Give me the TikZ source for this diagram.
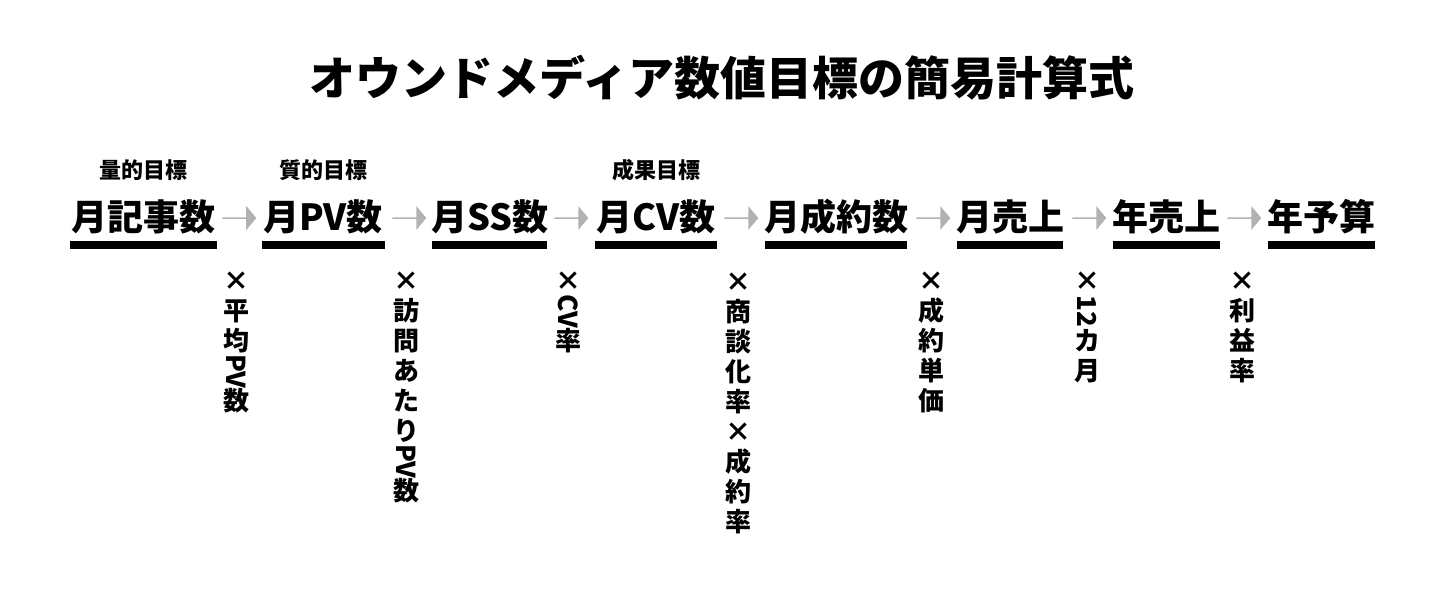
\documentclass[tikz,border=0pt]{standalone}
\usepackage{fontspec}
\setmainfont{Noto Sans CJK JP}
\usetikzlibrary{shapes.arrows}
\newcommand{\rl}[1]{\rotatebox[origin=c]{-90}{#1}}
\tikzset{
  main/.style={font=\fontsize{18pt}{20pt}\selectfont\bfseries, anchor=base, inner sep=0pt},
  sub/.style={font=\fontsize{11pt}{13pt}\selectfont\bfseries, inner sep=0pt},
  bar/.style={line width=4pt},
  arr/.style={single arrow, fill=black!30, draw=none, minimum height=17pt, minimum width=12pt, single arrow head extend=3pt, inner sep=0pt, single arrow tip angle=100},
  vert/.style={font=\fontsize{13pt}{15pt}\selectfont\bfseries, anchor=north, align=center, inner sep=0pt},
}
\begin{document}
\begin{tikzpicture}[x=0.5pt,y=-0.5pt]
\useasboundingbox (0,0) rectangle (1440,590);
\node[font=\fontsize{23pt}{26pt}\selectfont\bfseries] (title) at (722,78) {オウンドメディア数値目標の簡易計算式};
% main labels
\node[main] (n1) at (143,230) {月記事数};
\node[main] (n2) at (323,230) {月PV数};
\node[main] (n3) at (490,230) {月SS数};
\node[main] (n4) at (656,230) {月CV数};
\node[main] (n5) at (836,230) {月成約数};
\node[main] (n6) at (1010,230) {月売上};
\node[main] (n7) at (1166,230) {年売上};
\node[main] (n8) at (1321,230) {年予算};
% bars
\coordinate (b1a) at (70,245); \coordinate (b1b) at (217,245);
\coordinate (b2a) at (262,245); \coordinate (b2b) at (385,245);
\coordinate (b3a) at (432,245); \coordinate (b3b) at (547,245);
\coordinate (b4a) at (595,245); \coordinate (b4b) at (717,245);
\coordinate (b5a) at (765,245); \coordinate (b5b) at (907,245);
\coordinate (b6a) at (957,245); \coordinate (b6b) at (1063,245);
\coordinate (b7a) at (1113,245); \coordinate (b7b) at (1220,245);
\coordinate (b8a) at (1268,245); \coordinate (b8b) at (1375,245);
\foreach \i in {1,...,8} \draw[bar] (b\i a) -- (b\i b);
% sub labels
\node[sub] (s1) at (143,170) {量的目標};
\node[sub] (s2) at (323,170) {質的目標};
\node[sub] (s4) at (656,170) {成果目標};
% arrows
\node[arr] (a1) at (239,218) {};
\node[arr] (a2) at (409,218) {};
\node[arr] (a3) at (571,218) {};
\node[arr] (a4) at (741,218) {};
\node[arr] (a5) at (933,218) {};
\node[arr] (a6) at (1089,218) {};
\node[arr] (a7) at (1244,218) {};
% vertical texts
\node[vert] (v1) at (236,272) {×\\平\\均\\\rl{PV}\\数};
\node[vert] (v2) at (406,272) {×\\訪\\問\\あ\\た\\り\\\rl{PV}\\数};
\node[vert] (v3) at (568,272) {×\\\rl{CV}\\率};
\node[vert] (v4) at (738,272) {×\\商\\談\\化\\率\\×\\成\\約\\率};
\node[vert] (v5) at (931,272) {×\\成\\約\\単\\価};
\node[vert] (v6) at (1087,272) {×\\\rl{12}\\カ\\月};
\node[vert] (v7) at (1242,272) {×\\利\\益\\率};
\end{tikzpicture}
\end{document}
